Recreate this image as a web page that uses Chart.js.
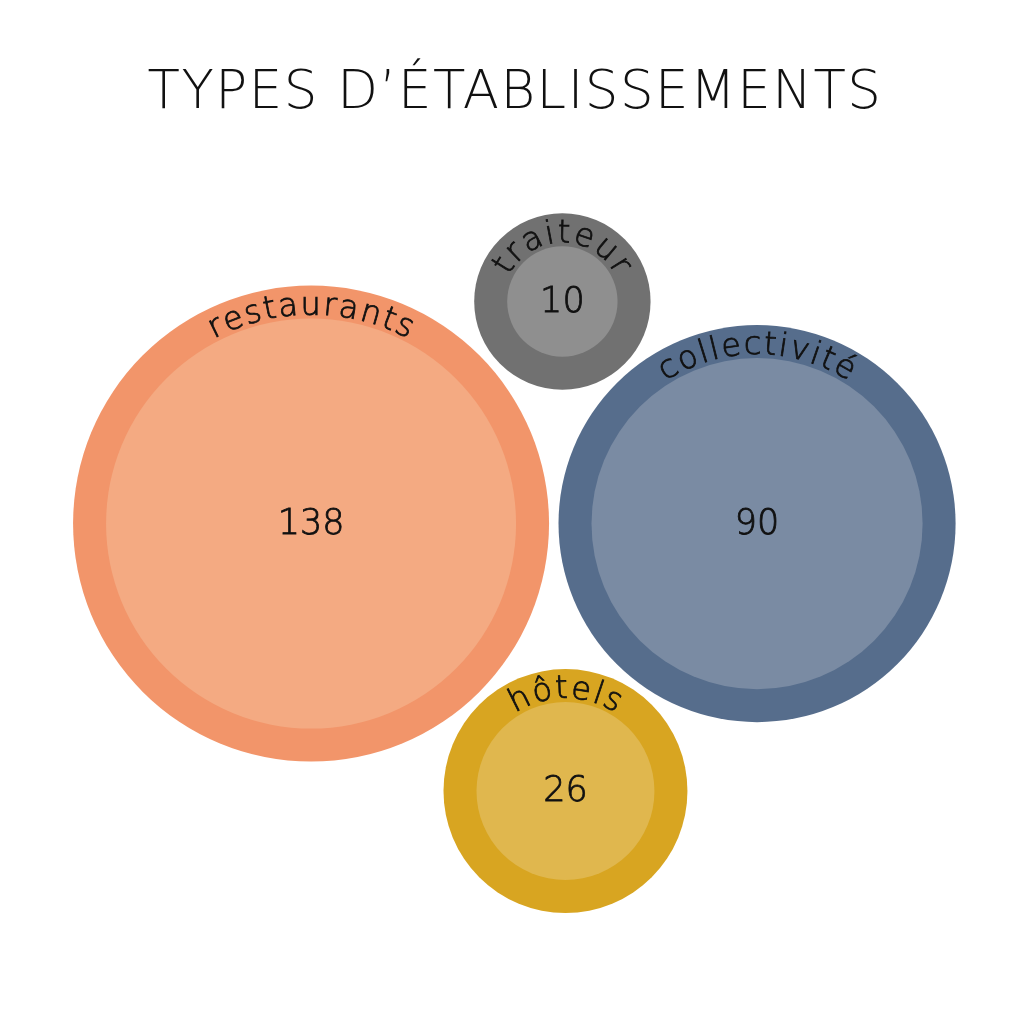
<!DOCTYPE html>
<html lang="fr">
<head>
    <meta charset="UTF-8">
    <title>Types d'établissements</title>
    <script src="https://cdn.jsdelivr.net/npm/chart.js"></script>
    <style>
        html, body { margin: 0; padding: 0; background: #fff; }
        .chart-container { position: relative; width: 1030px; height: 1030px; }
    </style>
</head>
<body>
    <div class="chart-container">
        <canvas id="typesChart"></canvas>
    </div>

    <script>
        // --- DATA ---
        const categories = ['restaurants', 'collectivité', 'traiteur', 'hôtels'];
        const counts = [138, 90, 10, 26];
        // bubble centres, in chart units (0-100 across, 0-100 down)
        const centreX = [30.2, 73.5, 54.6, 54.9];
        const centreY = [43.0, 43.0, 18.0, 73.1];

        // --- STYLE ---
        const ringColors = ['#F2956A', '#566D8C', '#717171', '#D8A521'];
        const fillColors = ['#F4AA82', '#7A8BA3', '#8F8F8F', '#E0B74E'];
        const FONT = "'DejaVu Sans', sans-serif";
        const RING = 33;           // width of the outer band, px
        const PX_PER_ROOT = 17.45; // inner radius = k * sqrt(count)

        const innerR = v => PX_PER_ROOT * Math.sqrt(v);

        const innerPoints = counts.map((v, i) => ({ x: centreX[i], y: centreY[i], r: innerR(v) }));
        const outerPoints = counts.map((v, i) => ({ x: centreX[i], y: centreY[i], r: innerR(v) + RING }));

        // light font, thickened a little with a thin outline
        function softText(ctx, s, x, y) {
            ctx.fillText(s, x, y);
            ctx.strokeText(s, x, y);
        }

        // text written along the top of a circle, centred on 12 o'clock
        function arcText(ctx, text, cx, cy, radius, spacing) {
            const chars = Array.from(text);
            const widths = chars.map(c => ctx.measureText(c).width + spacing);
            const total = widths.reduce((a, b) => a + b, 0) - spacing;
            let angle = -Math.PI / 2 - total / 2 / radius;
            chars.forEach((c, i) => {
                const a = angle + (widths[i] - spacing) / 2 / radius;
                ctx.save();
                ctx.translate(cx + radius * Math.cos(a), cy + radius * Math.sin(a));
                ctx.rotate(a + Math.PI / 2);
                softText(ctx, c, 0, 0);
                ctx.restore();
                angle += widths[i] / radius;
            });
        }

        const titleSpacing = {
            id: 'titleSpacing',
            beforeDraw(chart) { chart.ctx.letterSpacing = '1.5px'; },
            beforeDatasetsDraw(chart) { chart.ctx.letterSpacing = '0px'; }
        };

        const bubbleLabels = {
            id: 'bubbleLabels',
            afterDatasetsDraw(chart) {
                const ctx = chart.ctx;
                const meta = chart.getDatasetMeta(1);
                ctx.save();
                ctx.fillStyle = '#111';
                ctx.strokeStyle = '#111';
                ctx.lineWidth = 0.8;
                ctx.textAlign = 'center';
                meta.data.forEach((pt, i) => {
                    const r = innerPoints[i].r;
                    ctx.font = `300 35px ${FONT}`;
                    ctx.textBaseline = 'middle';
                    softText(ctx, String(counts[i]), pt.x, pt.y + 1);
                    ctx.font = `300 32px ${FONT}`;
                    ctx.textBaseline = 'alphabetic';
                    arcText(ctx, categories[i], pt.x, pt.y, r + 4, 1.8);
                });
                ctx.restore();
            }
        };

        new Chart(document.getElementById('typesChart'), {
            type: 'bubble',
            data: {
                datasets: [
                    { data: outerPoints, backgroundColor: ringColors, borderWidth: 0, hoverRadius: 0, order: 2, clip: false },
                    { data: innerPoints, backgroundColor: fillColors, borderWidth: 0, hoverRadius: 0, order: 1, clip: false }
                ]
            },
            options: {
                responsive: true,
                maintainAspectRatio: false,
                animation: false,
                events: [],
                layout: { padding: 0, autoPadding: false },
                scales: {
                    x: { type: 'linear', min: 0, max: 100, display: false },
                    y: { type: 'linear', min: 0, max: 100, reverse: true, display: false }
                },
                plugins: {
                    legend: { display: false },
                    tooltip: { enabled: false },
                    title: {
                        display: true,
                        text: 'TYPES D’ÉTABLISSEMENTS',
                        color: '#111',
                        font: { family: FONT, size: 53, weight: '300', lineHeight: 1.2 },
                        padding: { top: 62, bottom: 16 }
                    }
                }
            },
            plugins: [titleSpacing, bubbleLabels]
        });
    </script>
</body>
</html>
